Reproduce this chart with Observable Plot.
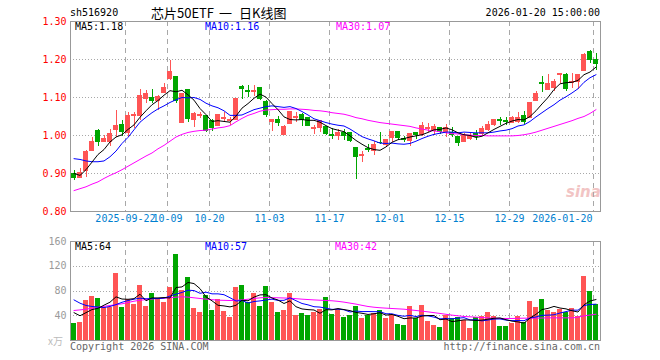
<!DOCTYPE html>
<html><head><meta charset="utf-8">
<script src="https://cdn.jsdelivr.net/npm/d3@7"></script>
<script src="https://cdn.jsdelivr.net/npm/@observablehq/plot@0.6"></script>
<style>
body{margin:0;background:#fff;}
#c{position:relative;width:660px;height:360px;overflow:hidden;font-family:"DejaVu Sans Mono",monospace;font-size:10px;background:#fff;}
.t{position:absolute;white-space:pre;line-height:10px;height:10px;}
#c svg{position:absolute;left:0;}
</style></head><body><div id="c"></div>
<script>
const dates = ["2025-09-09","2025-09-10","2025-09-11","2025-09-12","2025-09-15","2025-09-16","2025-09-17","2025-09-18","2025-09-19","2025-09-22","2025-09-23","2025-09-24","2025-09-25","2025-09-26","2025-09-29","2025-09-30",
"2025-10-09","2025-10-10","2025-10-13","2025-10-14","2025-10-15","2025-10-16","2025-10-17","2025-10-20","2025-10-21","2025-10-22","2025-10-23","2025-10-24","2025-10-27","2025-10-28","2025-10-29","2025-10-30","2025-10-31",
"2025-11-03","2025-11-04","2025-11-05","2025-11-06","2025-11-07","2025-11-10","2025-11-11","2025-11-12","2025-11-13","2025-11-14","2025-11-17","2025-11-18","2025-11-19","2025-11-20","2025-11-21","2025-11-24","2025-11-25","2025-11-26","2025-11-27","2025-11-28",
"2025-12-01","2025-12-02","2025-12-03","2025-12-04","2025-12-05","2025-12-08","2025-12-09","2025-12-10","2025-12-11","2025-12-12","2025-12-15","2025-12-16","2025-12-17","2025-12-18","2025-12-19","2025-12-22","2025-12-23","2025-12-24","2025-12-25","2025-12-26","2025-12-29","2025-12-30","2025-12-31",
"2026-01-05","2026-01-06","2026-01-07","2026-01-08","2026-01-09","2026-01-12","2026-01-13","2026-01-14","2026-01-15","2026-01-16","2026-01-19","2026-01-20"];
const open = [0.899,0.889,0.907,0.959,1.011,0.983,0.983,1.014,1.027,1.007,
1.051,1.051,1.095,1.099,1.090,1.113,1.149,1.153,1.033,1.119,
1.042,1.051,1.051,1.038,1.025,1.044,1.038,1.042,1.128,1.116,
1.115,1.125,1.089,1.035,1.042,1.001,1.031,1.045,1.053,1.045,
1.018,1.020,1.023,1.001,1.000,1.007,1.007,0.968,0.945,0.965,
0.960,0.981,0.974,0.994,1.009,0.991,0.986,1.007,1.002,1.018,
1.012,1.021,1.009,1.007,0.995,0.984,0.990,1.005,1.005,1.014,
1.027,1.041,1.037,1.034,1.036,1.051,1.047,1.090,1.137,1.119,
1.126,1.160,1.159,1.139,1.141,1.170,1.219,1.198];
const close = [0.889,0.902,0.956,0.982,0.983,0.990,1.003,1.024,1.010,1.051,
1.054,1.103,1.109,1.090,1.102,1.124,1.167,1.090,1.110,1.044,
1.056,1.053,1.011,1.020,1.053,1.047,1.042,1.095,1.123,1.114,
1.117,1.096,1.053,1.040,1.033,1.023,1.061,1.049,1.042,1.026,
1.020,1.038,1.005,0.999,1.007,1.000,0.986,0.944,0.948,0.962,
0.974,0.979,0.988,1.009,0.994,0.988,1.003,1.002,1.024,1.021,
1.023,1.009,1.021,1.001,0.981,1.000,0.998,0.995,1.017,1.027,
1.042,1.039,1.035,1.047,1.047,1.036,1.086,1.109,1.135,1.135,
1.140,1.163,1.122,1.142,1.159,1.212,1.200,1.188];
const high = [0.908,0.913,0.961,0.995,1.016,1.000,1.016,1.067,1.040,1.060,
1.060,1.121,1.119,1.121,1.104,1.137,1.198,1.153,1.110,1.119,
1.060,1.060,1.053,1.042,1.053,1.060,1.047,1.095,1.131,1.132,
1.131,1.125,1.091,1.040,1.051,1.027,1.064,1.061,1.058,1.045,
1.026,1.040,1.023,1.018,1.016,1.016,1.007,0.968,0.959,0.976,
0.983,1.009,0.988,1.009,1.009,0.998,1.003,1.009,1.033,1.032,
1.030,1.021,1.028,1.021,0.995,1.005,1.005,1.014,1.023,1.036,
1.042,1.047,1.047,1.051,1.060,1.062,1.086,1.117,1.154,1.160,
1.147,1.163,1.163,1.163,1.159,1.216,1.225,1.216];
const low = [0.881,0.889,0.889,0.959,0.970,0.983,0.970,0.994,0.997,0.995,
1.018,1.040,1.084,1.084,1.065,1.110,1.146,1.084,1.031,1.033,
1.021,1.044,1.007,1.010,1.025,1.033,1.027,1.040,1.095,1.100,
1.102,1.091,1.047,1.011,1.023,1.001,1.030,1.035,1.023,1.023,
1.003,1.007,1.000,0.989,0.988,0.988,0.981,0.884,0.928,0.954,
0.948,0.976,0.970,0.981,0.986,0.981,0.970,0.989,0.998,1.007,
1.000,1.003,0.996,0.995,0.970,0.981,0.986,0.988,1.001,1.010,
1.023,1.027,1.027,1.031,1.031,1.030,1.045,1.090,1.112,1.119,
1.115,1.137,1.115,1.124,1.121,1.168,1.189,1.172];
const volume = [27.5,29,64.6,71,68,53,53,108,53,66,
58,89,55,76,66,61,86,139,81,102,
52,45,73,48.5,66,47,37,86,89,62,
76.5,55,87.8,61.8,45.8,48.5,76.5,40.4,44,40,
45.8,49.6,69.5,42.5,50.6,37.7,41,55,35.6,41,
43.6,49,36,41,26,24,55,35.6,56.6,30.7,
24,21,41,36,37,32,19.4,37,39,45,
39,22.6,22.6,27.5,39,29,63,53,66,48.5,
45,50,46,51,38,104,80,58];
const ma5 = [0.900,0.895,0.910,0.930,
0.950,0.963,0.983,0.996,1.002,1.016,1.028,1.048,1.065,1.081,
1.092,1.106,1.118,1.115,1.119,1.107,1.093,1.071,1.055,1.037,
1.039,1.037,1.035,1.051,1.072,1.084,1.098,1.109,1.101,1.084,
1.068,1.049,1.042,1.041,1.042,1.040,1.040,1.035,1.026,1.018,
1.014,1.010,0.999,0.987,0.977,0.968,0.963,0.961,0.970,0.982,
0.989,0.992,0.996,0.999,1.002,1.008,1.015,1.016,1.020,1.015,
1.007,1.002,1.000,0.995,0.998,1.007,1.016,1.024,1.032,1.038,
1.042,1.041,1.050,1.065,1.083,1.100,1.121,1.136,1.139,1.140,
1.145,1.160,1.167,1.180];
const ma10 = [0.939,0.937,0.933,0.931,0.931,0.933,0.944,0.959,0.979,0.995,
1.015,1.035,1.048,1.060,1.070,1.078,1.087,1.094,1.100,1.099,
1.100,1.095,1.085,1.078,1.073,1.065,1.053,1.053,1.054,1.061,
1.068,1.072,1.076,1.078,1.076,1.074,1.076,1.071,1.063,1.054,
1.044,1.039,1.034,1.030,1.027,1.025,1.017,1.007,0.997,0.991,
0.986,0.980,0.979,0.980,0.978,0.977,0.979,0.985,0.992,0.998,
1.003,1.006,1.009,1.009,1.007,1.009,1.008,1.007,1.007,1.007,
1.009,1.012,1.014,1.018,1.025,1.028,1.037,1.049,1.060,1.071,
1.081,1.093,1.102,1.112,1.123,1.140,1.152,1.160];
const ma30 = [0.855,0.860,0.865,0.872,0.878,0.887,0.895,0.902,0.910,0.919,
0.928,0.937,0.946,0.954,0.965,0.974,0.985,0.996,1.003,1.008,
1.011,1.013,1.014,1.017,1.020,1.022,1.026,1.036,1.045,1.053,
1.058,1.064,1.067,1.068,1.069,1.069,1.070,1.070,1.069,1.068,
1.066,1.065,1.063,1.060,1.058,1.056,1.052,1.047,1.044,1.040,
1.037,1.034,1.032,1.030,1.028,1.026,1.024,1.020,1.017,1.014,
1.012,1.010,1.007,1.005,1.004,1.002,1.001,1.000,1.000,0.999,
0.999,0.999,0.999,0.999,1.000,1.002,1.005,1.009,1.014,1.019,
1.024,1.029,1.034,1.039,1.045,1.050,1.058,1.068];
const volMa5 = [45,40,45,50,52,57.1,61.9,70.6,67,66.6,
67.6,74.8,64.2,68.8,68.8,69.4,68.8,85.6,86.6,93.8,
92,83.8,70.6,64.1,56.9,55.9,54.3,56.9,65,64.2,
70.1,73.7,74.1,68.6,65.4,59.8,64.1,54.6,51,49.9,
49.3,44,49.8,49.5,51.6,50,48.3,45.4,44,42.1,
43.2,44.8,41,42.1,39.1,35.2,36.4,36.3,39.4,40.4,
40.4,33.6,34.7,30.5,31.8,33.4,33.1,32.3,32.9,34.5,
35.9,36.5,33.6,31.3,30.1,28.1,36.2,42.3,50,51.9,
55.1,52.5,51.1,48.1,46,57.8,63.8,66.2];
const volMa10 = [65.6,60.3,56.6,55,54,53.3,55,58,61.8,64.6,
66.8,68.4,67.4,67.9,67.7,68.5,71.8,74.9,77.7,81.3,
80.7,76.3,78.1,75.4,75.4,74,69.1,63.8,64.6,60.6,
63,64,65.5,66.8,64.8,64.9,68.9,64.3,59.8,57.6,
54.6,54,52.2,50.3,50.7,49.7,46.1,47.6,46.7,46.8,
46.6,46.6,43.2,43.1,40.6,39.2,40.6,38.7,40.8,39.8,
37.8,35,35.5,35,36.1,36.9,33.3,33.5,31.7,33.1,
34.6,34.8,33,32.1,32.3,32,36.4,38,40.7,41,
41.6,44.4,46.7,49.1,49,56.5,58.2,58.7];
const volMa30Idx = [0,2,4,6,8,10,12,14,16,18,20,22,24,26,28,30,32,34,36,38,40,42,43,45,47,49,51,53,55,57,59,61,63,65,67,69,71,73,75,77,79,81,83,85,87];
const volMa30 = [48.5,50.6,53.9,56.6,59.3,63.5,66.2,67.9,69,70.7,69,66.8,65.2,64.6,65.6,67.9,69.5,69,68.4,66.8,65.6,64.6,64.2,62,58.8,55,52.9,51.7,50.6,48.5,46.3,43.7,41,38.8,37.7,36.6,35.6,35.6,36.1,36.1,36.6,36.6,36.6,39.8,42.5];
const priceTicks = [0.8,0.9,1.0,1.1,1.2,1.3];
const priceGrid = [0.9,1.0,1.1,1.2];
const volTicks = [40,80,120,160];
const volGrid = [40,80,120];
const dateTickLabels = ["2025-09-22","10-09","10-20","11-03","11-17","12-01","12-15","12-29","2026-01-20"];
const dateTickDates = ["2025-09-22","2025-10-09","2025-10-20","2025-11-03","2025-11-17","2025-12-01","2025-12-15","2025-12-29","2026-01-20"];
const titleParts = ["芯片50ETF", "一", "日K线图"];
const maLabelsPrice = ["MA5:1.18","MA10:1.16","MA30:1.07"];
const maLabelsVol = ["MA5:64","MA10:57","MA30:42"];

const UP = "#ff5555", DN = "#00a600", C5 = "#000000", C10 = "#0000ff", C30 = "#ff00ff";
const GRID = "#a8a8a8", FRAME = "#999999", DATEC = "#0080d0";
const FONT = "DejaVu Sans Mono, monospace";

const rows = dates.map((d, i) => ({i, d, o: open[i], h: high[i], l: low[i], c: close[i], v: volume[i],
  col: close[i] >= open[i] ? UP : DN, m5: ma5[i], m10: ma10[i], m30: ma30[i], vm5: volMa5[i], vm10: volMa10[i]}));
const vm30 = volMa30Idx.map((i, k) => ({i, v: volMa30[k]}));
const tickIdx = dateTickDates.map(d => dates.indexOf(d));
const HW = 0.42;
const xScale = {type: "linear", domain: [0, dates.length - 1], range: [73.5, 73.5 + 6 * (dates.length - 1)], axis: null};
const gx = i => i - HW;

const price = Plot.plot({
  width: 660, height: 232, marginLeft: 70, marginRight: 60, marginTop: 21, marginBottom: 21,
  x: xScale,
  y: {domain: [0.8, 1.3], axis: null},
  color: {type: "identity"},
  style: {fontFamily: FONT, fontSize: "10px", background: "transparent", overflow: "visible"},
  marks: [
    Plot.ruleY(priceGrid, {stroke: GRID, strokeDasharray: "1,2", shapeRendering: "crispEdges"}),
    Plot.ruleX(tickIdx, {x: gx, stroke: GRID, strokeDasharray: "5,4", shapeRendering: "crispEdges"}),
    Plot.ruleX(rows, {x: "i", y1: "l", y2: "h", stroke: "col", shapeRendering: "crispEdges"}),
    Plot.rect(rows, {x1: d => d.i - HW, x2: d => d.i + HW, y1: "o", y2: "c", fill: "col", insetTop: -0.5, insetBottom: -0.5, shapeRendering: "crispEdges"}),
    Plot.line(rows, {x: "i", y: "m30", stroke: C30, strokeWidth: 1}),
    Plot.line(rows, {x: "i", y: "m10", stroke: C10, strokeWidth: 1}),
    Plot.line(rows, {x: "i", y: "m5", stroke: C5, strokeWidth: 1}),
    Plot.frame({stroke: FRAME, shapeRendering: "crispEdges"}),
    Plot.axisY(priceTicks, {tickSize: 0, tickPadding: 4, fill: "#ff0000", tickFormat: d3.format(".2f"), fontSize: 10}),
    Plot.text(dateTickLabels.slice(0, -1), {x: (d, k) => gx(tickIdx[k]), frameAnchor: "bottom", dy: 10, fill: DATEC, fontSize: 10}),
    Plot.text(dateTickLabels.slice(-1), {x: gx(tickIdx[tickIdx.length - 1]), frameAnchor: "bottom", dy: 10, dx: -1, textAnchor: "end", fill: DATEC, fontSize: 10})
  ]
});
price.style.top = "0px";

const vol = Plot.plot({
  width: 660, height: 128, marginLeft: 70, marginRight: 60, marginTop: 9, marginBottom: 20,
  x: xScale,
  y: {domain: [0, 160], axis: null},
  color: {type: "identity"},
  style: {fontFamily: FONT, fontSize: "10px", background: "transparent", overflow: "visible"},
  marks: [
    Plot.ruleY(volGrid, {stroke: GRID, strokeDasharray: "1,2", shapeRendering: "crispEdges"}),
    Plot.ruleX(tickIdx, {x: gx, stroke: GRID, strokeDasharray: "5,4", shapeRendering: "crispEdges"}),
    Plot.rect(rows, {x1: d => d.i - HW, x2: d => d.i + HW, y1: 0, y2: "v", fill: "col", shapeRendering: "crispEdges"}),
    Plot.line(vm30, {x: "i", y: "v", stroke: C30, strokeWidth: 1, curve: "monotone-x"}),
    Plot.line(rows, {x: "i", y: "vm10", stroke: C10, strokeWidth: 1}),
    Plot.line(rows, {x: "i", y: "vm5", stroke: C5, strokeWidth: 1}),
    Plot.frame({stroke: FRAME, shapeRendering: "crispEdges"}),
    Plot.axisY(volTicks, {tickSize: 0, tickPadding: 4, fill: "#9a9a9a", fontSize: 10})
  ]
});
vol.style.top = "232px";

const c = document.getElementById("c");

function label(text, opts) {
  const el = document.createElement("div");
  el.className = "t";
  el.textContent = text;
  const size = opts.size || 10;
  el.style.fontSize = size + "px";
  el.style.lineHeight = size + "px";
  el.style.height = size + "px";
  el.style.top = (opts.cy - size / 2) + "px";
  if (opts.right != null) el.style.right = (660 - opts.right) + "px";
  else el.style.left = opts.left + "px";
  el.style.color = opts.color || "#000";
  if (opts.font) el.style.fontFamily = opts.font;
  if (opts.style) Object.assign(el.style, opts.style);
  c.appendChild(el);
}
// faint watermark behind the plots
label("sina", {left: 566, cy: 192, size: 15, color: "#f2c4c4", font: "'DejaVu Sans', sans-serif", style: {fontStyle: "italic", fontWeight: "bold"}});
c.appendChild(price);
c.appendChild(vol);

const CJK = "'Noto Sans CJK SC', sans-serif";
label("sh516920", {left: 70, cy: 13});
label(titleParts[0], {left: 151, cy: 12, size: 13, font: CJK});
label(titleParts[1], {left: 219, cy: 12, size: 13, font: CJK});
label(titleParts[2], {left: 239, cy: 12, size: 13, font: CJK});
label("2026-01-20 15:00:00", {right: 600, cy: 13});
label(maLabelsPrice[0], {left: 75, cy: 27, color: C5});
label(maLabelsPrice[1], {left: 205, cy: 27, color: C10});
label(maLabelsPrice[2], {left: 336, cy: 27, color: C30});
label(maLabelsVol[0], {left: 75, cy: 247, color: C5});
label(maLabelsVol[1], {left: 205, cy: 247, color: C10});
label(maLabelsVol[2], {left: 335, cy: 247, color: C30});
label("x万", {left: 48, cy: 341, color: "#bbbbbb", font: CJK});
label("Copyright 2026 SINA.COM", {left: 70, cy: 347, color: "#666666"});
label("http://finance.sina.com.cn", {right: 600, cy: 347, color: "#666666"});
</script></body></html>
